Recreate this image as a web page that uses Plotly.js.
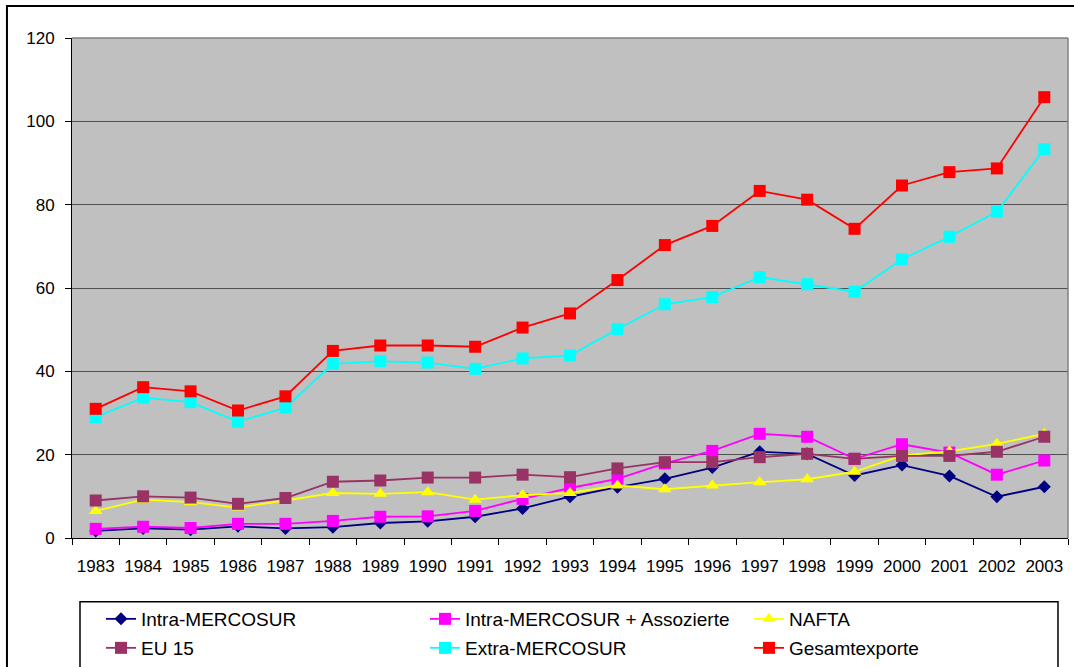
<!DOCTYPE html>
<html>
<head>
<meta charset="utf-8">
<script src="https://cdn.plot.ly/plotly-3.0.1.min.js"></script>
<style>
  html, body { margin: 0; padding: 0; background: #ffffff; }
  #chart { width: 1074px; height: 667px; }
</style>
</head>
<body>
<div id="chart"></div>
<script>
// Exports by destination, 1983-2003
const years = ["1983", "1984", "1985", "1986", "1987", "1988", "1989", "1990", "1991", "1992", "1993",
               "1994", "1995", "1996", "1997", "1998", "1999", "2000", "2001", "2002", "2003"];

const intraMercosur = [1.7, 2.3, 2.0, 2.8, 2.3, 2.6, 3.6, 4.0, 5.1, 7.1, 9.9,
                       12.2, 14.2, 16.9, 20.7, 20.2, 15.0, 17.5, 14.9, 9.9, 12.3];
const intraAssoziierte = [2.2, 2.7, 2.4, 3.4, 3.4, 4.1, 5.1, 5.2, 6.5, 9.4, 12.0,
                          14.2, 17.9, 20.9, 25.0, 24.3, 19.0, 22.5, 20.5, 15.2, 18.6];
const nafta = [6.5, 9.2, 8.6, 7.3, 9.0, 10.8, 10.6, 11.0, 9.2, 10.3, 10.8,
               12.6, 11.7, 12.6, 13.4, 14.1, 15.9, 19.8, 20.8, 22.6, 25.0];
const eu15 = [9.0, 10.0, 9.7, 8.2, 9.6, 13.5, 13.8, 14.5, 14.5, 15.2, 14.6,
              16.7, 18.2, 18.2, 19.4, 20.2, 19.0, 19.7, 19.7, 20.7, 24.3];
const extraMercosur = [29.0, 33.7, 32.6, 27.9, 31.3, 41.8, 42.4, 42.1, 40.6, 43.1, 43.8,
                       50.1, 56.1, 57.8, 62.6, 60.9, 59.1, 66.9, 72.3, 78.3, 93.3];
const gesamtexporte = [31.0, 36.2, 35.2, 30.6, 34.0, 44.9, 46.2, 46.2, 45.9, 50.5, 53.9,
                       61.9, 70.3, 74.9, 83.3, 81.2, 74.2, 84.6, 87.8, 88.7, 105.8];

const yTicks = [0, 20, 40, 60, 80, 100, 120];

function series(name, values, color, symbol, size, legendId, entryWidth) {
  return {
    type: "scatter",
    mode: "lines+markers",
    name: name,
    x: years,
    y: values,
    legend: legendId,
    legendwidth: entryWidth,
    line: { color: color, width: 1.8 },
    marker: { color: color, symbol: symbol, size: size, line: { width: 0 } },
    hoverinfo: "x+y+name"
  };
}

const traces = [
  series("Intra-MERCOSUR", intraMercosur, "#000080", "diamond", 10, "legend", 279),
  series("Intra-MERCOSUR + Assozierte", intraAssoziierte, "#FF00FF", "square", 12, "legend", 279),
  series("NAFTA", nafta, "#FFFF00", "triangle-up", 12, "legend", 140),
  series("EU 15", eu15, "#993366", "square", 12, "legend2", 279),
  series("Extra-MERCOSUR", extraMercosur, "#00FFFF", "square", 12, "legend2", 279),
  series("Gesamtexporte", gesamtexporte, "#FF0000", "square", 12, "legend2", 140)
];

const baseFont = { family: "Liberation Sans, Arial, sans-serif", color: "#000000" };

const legendCommon = {
  orientation: "h",
  xanchor: "left",
  yanchor: "middle",
  x: 0.0291,
  bgcolor: "rgba(0,0,0,0)",
  borderwidth: 0,
  entrywidthmode: "pixels",
  font: Object.assign({}, baseFont, { size: 19 })
};

const layout = {
  width: 1074,
  height: 667,
  margin: { l: 72, r: 6, t: 38, b: 129, autoexpand: false },
  paper_bgcolor: "#FFFFFF",
  plot_bgcolor: "#C0C0C0",
  font: Object.assign({}, baseFont, { size: 17 }),
  showlegend: true,
  legend: Object.assign({}, legendCommon, { y: -0.162 }),
  legend2: Object.assign({}, legendCommon, { y: -0.220 }),
  xaxis: {
    type: "category",
    range: [-0.5, years.length - 0.5],
    tickson: "boundaries",
    tickangle: 0,
    ticks: "outside",
    ticklen: 6,
    tickcolor: "#000000",
    showline: true,
    linecolor: "#000000",
    linewidth: 1,
    showgrid: false,
    zeroline: false,
    ticklabelstandoff: 13,
    tickfont: Object.assign({}, baseFont, { size: 17 }),
    fixedrange: true
  },
  yaxis: {
    range: [0, 120],
    tickvals: yTicks,
    ticktext: yTicks.map(String),
    ticks: "outside",
    ticklen: 6,
    tickcolor: "#000000",
    showline: true,
    linecolor: "#000000",
    linewidth: 1,
    showgrid: true,
    gridcolor: "#505050",
    gridwidth: 1,
    zeroline: false,
    ticklabelstandoff: 7,
    tickfont: Object.assign({}, baseFont, { size: 17 }),
    fixedrange: true
  },
  shapes: [
    // plot-area frame on the top and right
    { type: "line", xref: "paper", yref: "paper", x0: 0, x1: 1, y0: 1, y1: 1,
      line: { color: "#808080", width: 1.5 }, layer: "above" },
    { type: "line", xref: "paper", yref: "paper", x0: 1, x1: 1, y0: 0, y1: 1,
      line: { color: "#808080", width: 1.5 }, layer: "above" },
    // legend frame
    { type: "rect", xref: "paper", yref: "paper",
      x0: 0.00803, x1: 0.98996, y0: -0.3046, y1: -0.1277,
      line: { color: "#000000", width: 1.5 }, fillcolor: "rgba(0,0,0,0)", layer: "above" },
    // outer chart frame
    { type: "rect", xref: "paper", yref: "paper",
      x0: -0.0653, x1: 1.012, y0: -0.2846, y1: 1.0641,
      line: { color: "#000000", width: 2 }, fillcolor: "rgba(0,0,0,0)", layer: "above" }
  ]
};

Plotly.newPlot("chart", traces, layout, { displayModeBar: false, staticPlot: true });
</script>
</body>
</html>
